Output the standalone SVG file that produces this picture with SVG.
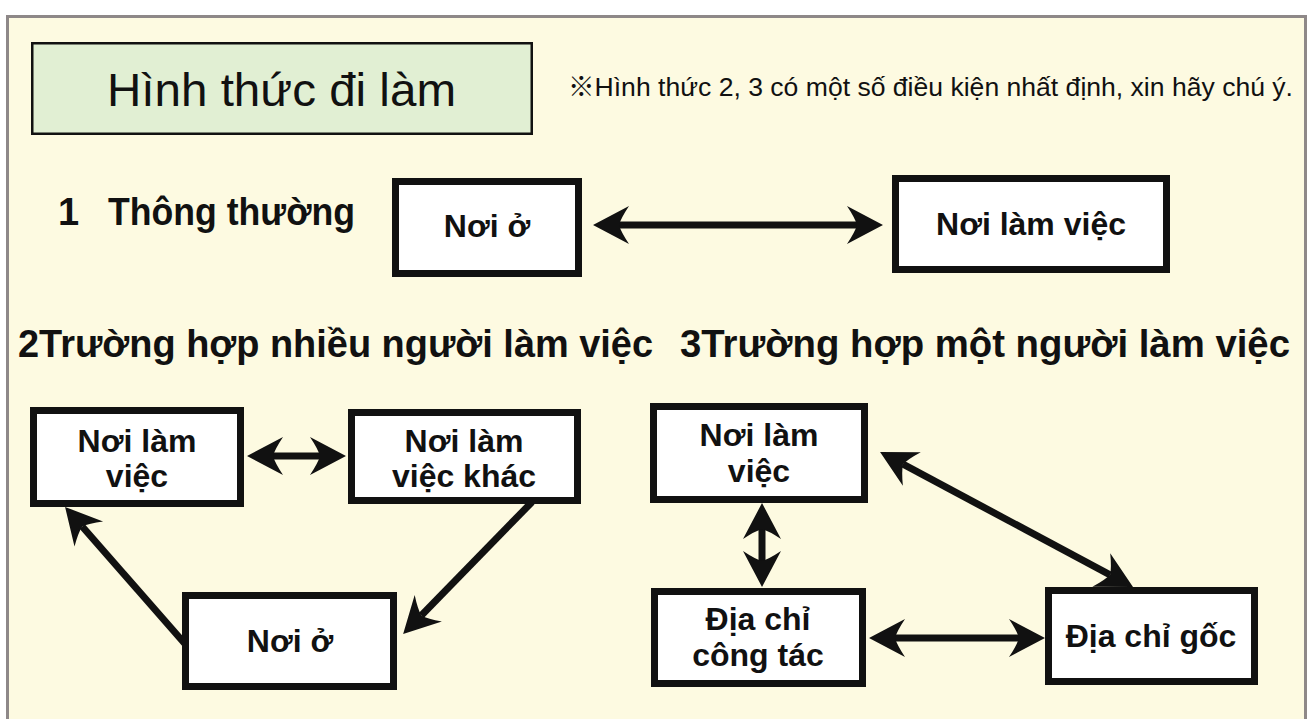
<svg xmlns="http://www.w3.org/2000/svg" width="1310" height="719" viewBox="0 0 1310 719">
<defs>
<marker id="ah" viewBox="-12 -20 40 40" refX="0" refY="0" markerWidth="40" markerHeight="40" markerUnits="userSpaceOnUse" orient="auto-start-reverse">
<path d="M26,0 L-10,-19 Q-2,-7 0,0 Q-2,7 -10,19 Z" fill="#111"/>
</marker>
<style>
.node rect{fill:#fff;stroke:#111;stroke-width:7}
.lbl{font-family:"Liberation Sans",Arial,sans-serif;font-weight:bold;font-size:32px;fill:#111;text-anchor:middle}
.head{font-family:"Liberation Sans",Arial,sans-serif;font-weight:bold;font-size:38px;fill:#111}
#connectors line{stroke:#111;stroke-width:7;marker-end:url(#ah)}
#connectors line.both{marker-start:url(#ah)}
</style>
</defs>
<rect x="0" y="0" width="1310" height="719" fill="#fff"/>
<rect x="7.5" y="16.5" width="1298" height="720" fill="#fdfae1" stroke="#8e8888" stroke-width="3"/>

<g id="title">
<rect x="32.25" y="43.25" width="499.5" height="90.5" fill="#e1efd3" stroke="#111" stroke-width="2.5"/>
<text x="107" y="106" font-family="'Liberation Sans',Arial,sans-serif" font-size="46" fill="#111" textLength="349" lengthAdjust="spacingAndGlyphs">Hình thức đi làm</text>
</g>
<text id="note" x="568" y="96" font-family="'Liberation Sans','Noto Sans CJK JP',sans-serif" font-size="26" fill="#111" textLength="725" lengthAdjust="spacingAndGlyphs">※Hình thức 2, 3 có một số điều kiện nhất định, xin hãy chú ý.</text>

<g id="heading1">
<text class="head" x="58" y="225">1</text>
<text class="head" x="108" y="225" textLength="247" lengthAdjust="spacingAndGlyphs">Thông thường</text>
</g>
<text id="heading2" class="head" x="18" y="357" textLength="635" lengthAdjust="spacingAndGlyphs">2Trường hợp nhiều người làm việc</text>
<text id="heading3" class="head" x="680" y="357" textLength="610" lengthAdjust="spacingAndGlyphs">3Trường hợp một người làm việc</text>

<g id="connectors">
<line class="both" x1="619" y1="225" x2="857" y2="225"/>
<line class="both" x1="273" y1="456" x2="320" y2="456"/>
<line x1="186" y1="645" x2="82.2" y2="526.5"/>
<line x1="532" y1="502" x2="421.3" y2="615.5"/>
<line class="both" x1="762" y1="529" x2="762" y2="561"/>
<line class="both" x1="895" y1="638" x2="1019" y2="638"/>
<line class="both" x1="903" y1="464.2" x2="1110.1" y2="574.8"/>
</g>

<g id="s1-home" class="node">
<rect x="395.5" y="181.5" width="183" height="92"/>
<text class="lbl" x="487" y="237" font-size="33">Nơi ở</text>
</g>
<g id="s1-work" class="node">
<rect x="895.5" y="178.5" width="271" height="91"/>
<text class="lbl" x="1031" y="235" font-size="33">Nơi làm việc</text>
</g>

<g id="s2-work" class="node">
<rect x="33.5" y="410.5" width="207" height="93"/>
<text class="lbl" x="137" y="452">Nơi làm</text>
<text class="lbl" x="137" y="487">việc</text>
</g>
<g id="s2-other" class="node">
<rect x="351.5" y="412.5" width="226" height="88"/>
<text class="lbl" x="464" y="452">Nơi làm</text>
<text class="lbl" x="464" y="487">việc khác</text>
</g>
<g id="s2-home" class="node">
<rect x="185.5" y="595.5" width="208" height="91"/>
<text class="lbl" x="290" y="652">Nơi ở</text>
</g>

<g id="s3-work" class="node">
<rect x="653.5" y="406.5" width="211" height="93"/>
<text class="lbl" x="759" y="446">Nơi làm</text>
<text class="lbl" x="759" y="482">việc</text>
</g>
<g id="s3-posting" class="node">
<rect x="654.5" y="591.5" width="208" height="92"/>
<text class="lbl" x="758" y="630">Địa chỉ</text>
<text class="lbl" x="758" y="666">công tác</text>
</g>
<g id="s3-origin" class="node">
<rect x="1048.5" y="590.5" width="206" height="91"/>
<text class="lbl" x="1151" y="647">Địa chỉ gốc</text>
</g>
</svg>
